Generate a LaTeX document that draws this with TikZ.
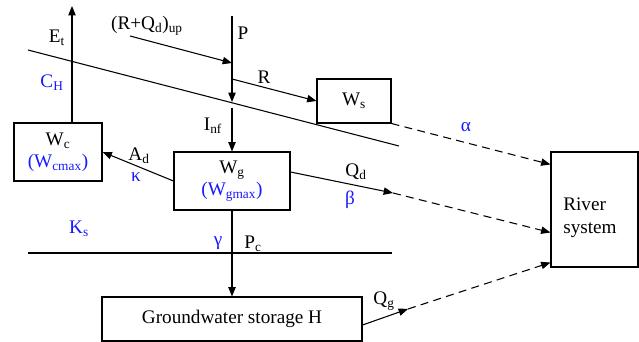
\documentclass[tikz,border=0pt]{standalone}
\usepackage{fontspec}
\setmainfont{Liberation Serif}
\usepackage{tikz}
\usetikzlibrary{arrows.meta, calc}
\definecolor{parblue}{RGB}{25,25,255}

\begin{document}
\begin{tikzpicture}[
            x=0.75pt, y=-0.75pt,
            font=\fontsize{14.4}{16.5}\selectfont,
            box/.style={draw, thick, fill=white, inner sep=0pt, align=center},
            arrow/.style={-{Triangle[length=7pt, width=5.5pt]}, thick},
            dasharrow/.style={arrow, dashed, dash pattern=on 6pt off 4pt},
            plabel/.style={text=parblue, inner sep=0pt}
        ]
        \useasboundingbox (0,0) rectangle (639,342);

        % --- stores ---
        \node[box, minimum width=88*0.75pt, minimum height=58*0.75pt] (Wc) at (58,152)
            {W\textsubscript{c}\\\textcolor{parblue}{(W\textsubscript{cmax})}};
        \node[box, minimum width=74*0.75pt, minimum height=44*0.75pt] (Ws) at (354,101) {W\textsubscript{s}};
        \node[box, minimum width=116*0.75pt, minimum height=58*0.75pt] (Wg) at (232,181)
            {W\textsubscript{g}\\\textcolor{parblue}{(W\textsubscript{gmax})}};
        \node[box, minimum width=260*0.75pt, minimum height=44*0.75pt] (GW) at (232,319) {Groundwater storage H};
        \node[box, minimum width=87*0.75pt, minimum height=115*0.75pt] (River) at (594.5,209.5) {};
        \node[inner sep=0pt, align=left, font=\fontsize{14.4}{17.2}\selectfont] (rivertxt) at (590,218) {River\\system};

        % --- free ends ---
        \coordinate (et) at (72,6);
        \coordinate (ptop) at (232,16);
        \coordinate (pend) at (232,102);
        \coordinate (rq) at (130,36);
        \coordinate (pin) at (232,63);
        \coordinate (rout) at (232,79);
        \coordinate (inf) at (232,108);
        \coordinate (qd) at (393,193);
        \coordinate (qg) at (408,309);

        % --- soil surface lines ---
        \draw[thick] (28,50) -- (399,146);
        \draw[thick] (28,253) -- (392,253);

        % --- fluxes ---
        \draw[arrow] (Wc.north -| et) -- (et);
        \draw[arrow] (ptop) -- (pend);
        \draw[arrow] (rq) -- (pin);
        \draw[arrow] (rout) -- (Ws.west);
        \draw[arrow] (inf) -- (Wg.north);
        \draw[arrow] (Wg.west) -- (Wc.east);
        \draw[arrow] ($(Wg.east)+(0,-9)$) -- (qd);
        \draw[arrow] (Wg.south) -- (GW.north);
        \draw[arrow] ($(GW.east)+(0,6)$) -- (qg);
        \draw[dasharrow] (Ws.south east) -- ($(River.north west)+(0,13)$);
        \draw[dasharrow] (qd) -- ($(River.west)+(0,23)$);
        \draw[dasharrow] (qg) -- ($(River.south west)+(0,-5)$);

        % --- labels ---
        \node[inner sep=0pt] (Etl) at (57,38) {E\textsubscript{t}};
        \node[inner sep=0pt] (RQl) at (147,26) {(R+Q\textsubscript{d})\textsubscript{up}};
        \node[inner sep=0pt] (Pl) at (243,33) {P};
        \node[inner sep=0pt] (Rl) at (264,77) {R};
        \node[inner sep=0pt] (Infl) at (213,126) {I\textsubscript{nf}};
        \node[inner sep=0pt] (Adl) at (139,156) {A\textsubscript{d}};
        \node[inner sep=0pt] (Qdl) at (356,172) {Q\textsubscript{d}};
        \node[inner sep=0pt] (Pcl) at (253,244) {P\textsubscript{c}};
        \node[inner sep=0pt] (Qgl) at (384,301) {Q\textsubscript{g}};
        \node[plabel] (CHl) at (52,83) {C\textsubscript{H}};
        \node[plabel] (alphal) at (466,127) {α};
        \node[plabel] (kappal) at (136,177) {κ};
        \node[plabel] (betal) at (350,200) {β};
        \node[plabel] (Ksl) at (79,229) {K\textsubscript{s}};
        \node[plabel] (gammal) at (218,243) {γ};
        \end{tikzpicture}
\end{document}
